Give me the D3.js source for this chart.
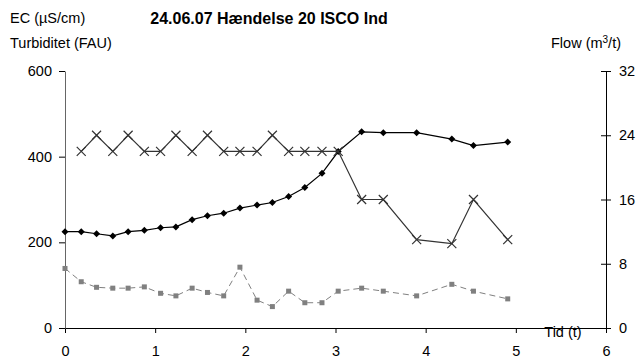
<!DOCTYPE html>
<html><head><meta charset="utf-8">
<script src="https://cdn.jsdelivr.net/npm/d3@7"></script>
<style>
body{margin:0;background:#fff;}
svg text{font-family:"Liberation Sans",Arial,sans-serif;}
</style></head>
<body><svg id="c" width="644" height="360"></svg>
<script>
// Data
const times = [0, 0.18, 0.35, 0.53, 0.7, 0.88, 1.06, 1.23, 1.41, 1.58, 1.76, 1.94, 2.13, 2.3, 2.48, 2.66, 2.85, 3.03, 3.29, 3.53, 3.9, 4.29, 4.53, 4.91];
const ec = [225, 225, 220, 215, 225, 228, 234, 236, 253, 262, 268, 280, 287, 293, 307, 328, 361, 412, 458, 456, 456, 441, 426, 434];
const flow = [null, 22, 24, 22, 24, 22, 22, 24, 22, 24, 22, 22, 22, 24, 22, 22, 22, 22, 16, 16, 11, 10.5, 16, 11];
const turb = [139, 108, 95, 93, 93, 96, 81, 75, 93, 83, 75, 142, 65, 50, 86, 59, 59, 86, 93, 86, 75, 102, 86, 68];
const xTicks = [0, 1, 2, 3, 4, 5, 6];
const yLeftTicks = [0, 200, 400, 600];
const yRightTicks = [0, 8, 16, 24, 32];

const svg = d3.select("#c");
const x = d3.scaleLinear().domain([0, 6]).range([65, 606]);
const yL = d3.scaleLinear().domain([0, 600]).range([328, 71]);
const yR = d3.scaleLinear().domain([0, 32]).range([328, 71]);
const fs = "14.5px";

// Axes
const gx = svg.append("g").attr("transform", "translate(0,328)")
  .call(d3.axisBottom(x).tickValues(xTicks).tickFormat(d3.format("d")).tickSize(5).tickSizeOuter(0).tickPadding(13));
gx.select(".domain").attr("stroke", "#000");
gx.selectAll("text").style("font-size", fs).attr("fill", "#000");

const gl = svg.append("g").attr("transform", "translate(65,0)")
  .call(d3.axisLeft(yL).tickValues(yLeftTicks).tickSize(6).tickSizeOuter(0).tickPadding(7));
gl.select(".domain").attr("stroke", "#666");
gl.selectAll("text").style("font-size", fs).attr("fill", "#000");

const gr = svg.append("g").attr("transform", "translate(606,0)")
  .call(d3.axisRight(yR).tickValues(yRightTicks).tickSize(5).tickSizeOuter(0).tickPadding(8));
gr.selectAll(".tick line").attr("x1", -5).attr("x2", 5);
gr.selectAll("text").style("font-size", fs).attr("fill", "#000");

// Turbidity (dashed grey, squares)
const idx = d3.range(times.length);
const lineT = d3.line().x(i => x(times[i])).y(i => yL(turb[i]));
svg.append("path").attr("d", lineT(idx)).attr("fill", "none")
  .attr("stroke", "#808080").attr("stroke-width", 1).attr("stroke-dasharray", "6,4");
svg.append("g").selectAll("rect").data(idx).join("rect")
  .attr("x", i => x(times[i]) - 2.5).attr("y", i => yL(turb[i]) - 2.5)
  .attr("width", 5).attr("height", 5).attr("fill", "#808080");

// EC (black, diamonds)
const lineE = d3.line().x(i => x(times[i])).y(i => yL(ec[i]));
svg.append("path").attr("d", lineE(idx)).attr("fill", "none")
  .attr("stroke", "#000").attr("stroke-width", 1.2);
svg.append("g").selectAll("path").data(idx).join("path")
  .attr("d", i => { const cx = x(times[i]), cy = yL(ec[i]); return `M${cx},${cy-3.5}L${cx+3.5},${cy}L${cx},${cy+3.5}L${cx-3.5},${cy}Z`; })
  .attr("fill", "#000");

// Flow (dark, X markers)
const fIdx = idx.filter(i => flow[i] !== null);
const lineF = d3.line().x(i => x(times[i])).y(i => yR(flow[i]));
svg.append("path").attr("d", lineF(fIdx)).attr("fill", "none")
  .attr("stroke", "#333").attr("stroke-width", 1.2);
svg.append("g").selectAll("path").data(fIdx).join("path")
  .attr("d", i => { const cx = x(times[i]), cy = yR(flow[i]); return `M${cx-4.5},${cy-4.5}L${cx+4.5},${cy+4.5}M${cx-4.5},${cy+4.5}L${cx+4.5},${cy-4.5}`; })
  .attr("stroke", "#333").attr("stroke-width", 1.2).attr("fill", "none");

// Labels
svg.append("text").attr("x", 269).attr("y", 24).attr("text-anchor", "middle")
  .style("font-size", "16px").style("font-weight", "bold").text("24.06.07 Hændelse 20 ISCO Ind");
svg.append("text").attr("x", 10).attr("y", 23).style("font-size", fs).text("EC (µS/cm)");
svg.append("text").attr("x", 10).attr("y", 48).style("font-size", fs).text("Turbiditet (FAU)");
const ft = svg.append("text").attr("x", 621).attr("y", 48).attr("text-anchor", "end").style("font-size", fs);
ft.append("tspan").text("Flow (m");
ft.append("tspan").attr("dy", -5).style("font-size", "10px").text("3");
ft.append("tspan").attr("dy", 5).text("/t)");
svg.append("text").attr("x", 563).attr("y", 337).attr("text-anchor", "middle").style("font-size", fs).text("Tid (t)");
</script></body></html>
